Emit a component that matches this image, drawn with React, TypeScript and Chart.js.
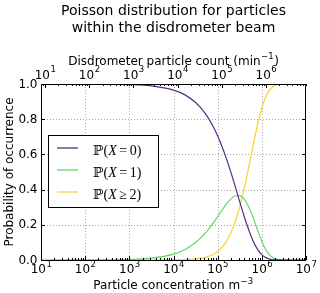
import React, { useEffect, useRef } from 'react';
import { Chart, registerables } from 'chart.js';

Chart.register(...registerables);

// Particle concentration (m^-3) sample points
const concentration = [
  10, 100, 1000, 3162, 10000, 17783, 31623, 39811, 50119, 63096, 79433,
  100000, 125893, 158489, 199526, 251189, 316228, 398107, 501187, 630957,
  794328, 1000000, 1258925, 1584893, 1995262, 2511886, 3162278, 10000000,
];
const pZero = [
  1.0, 0.9997, 0.9965, 0.989, 0.9656, 0.9397, 0.8952, 0.87, 0.8391, 0.8019, 0.7573,
  0.7048, 0.6437, 0.5743, 0.4975, 0.4152, 0.3307, 0.2483, 0.1731, 0.1099,
  0.062, 0.0302, 0.0122, 0.0039, 0.0009, 0.0002, 0.0, 0.0,
];
const pOne = [
  0.0, 0.0003, 0.0035, 0.011, 0.0338, 0.0584, 0.0991, 0.1212, 0.1472, 0.1771, 0.2105,
  0.2466, 0.2836, 0.3185, 0.3474, 0.365, 0.366, 0.3459, 0.3036, 0.2427,
  0.1724, 0.1057, 0.0538, 0.0217, 0.0065, 0.0013, 0.0002, 0.0,
];
const pTwoPlus = [
  0.0, 0.0, 0.0, 0.0001, 0.0006, 0.0019, 0.0057, 0.0088, 0.0137, 0.021, 0.0322,
  0.0486, 0.0727, 0.1072, 0.1551, 0.2198, 0.3033, 0.4058, 0.5233, 0.6474,
  0.7656, 0.8641, 0.934, 0.9744, 0.9926, 0.9986, 0.9998, 1.0,
];

const seriesLabels = ['0', '1', '2'];
const seriesRelations = ['=', '=', '≥'];
const seriesColors = ['#5a2d80', '#66d46a', '#f9d230'];

const bottomTickExps = [1, 2, 3, 4, 5, 6, 7];
const topTickExps = [1, 2, 3, 4, 5, 6];
const yTicks = [0, 0.2, 0.4, 0.6, 0.8, 1.0];

const titleLines = ['Poisson distribution for particles', 'within the disdrometer beam'];
const topAxisTitle = 'Disdrometer particle count (min';
const topAxisSup = '−1';
const bottomAxisTitle = 'Particle concentration m';
const bottomAxisSup = '−3';
const yAxisTitle = 'Probability of occurrence';

const SANS = '"DejaVu Sans", sans-serif';
const SERIF = '"Liberation Serif", "DejaVu Serif", serif';

function drawPow(ctx: CanvasRenderingContext2D, x: number, y: number, exp: number) {
  ctx.font = `12px ${SANS}`;
  const w1 = ctx.measureText('10').width;
  ctx.font = `8.5px ${SANS}`;
  const e = String(exp);
  const w2 = ctx.measureText(e).width;
  const start = x - (w1 + w2) / 2;
  ctx.textAlign = 'left';
  ctx.textBaseline = 'alphabetic';
  ctx.font = `12px ${SANS}`;
  ctx.fillText('10', start, y);
  ctx.font = `8.5px ${SANS}`;
  ctx.fillText(e, start + w1 + 0.5, y - 6.5);
}

function drawWithSup(ctx: CanvasRenderingContext2D, cx: number, y: number, main: string, sup: string, tail: string) {
  ctx.font = `12px ${SANS}`;
  const w1 = ctx.measureText(main).width;
  const w3 = ctx.measureText(tail).width;
  ctx.font = `8.5px ${SANS}`;
  const w2 = ctx.measureText(sup).width;
  const start = cx - (w1 + w2 + w3 + 1) / 2;
  ctx.textAlign = 'left';
  ctx.textBaseline = 'alphabetic';
  ctx.font = `12px ${SANS}`;
  ctx.fillText(main, start, y);
  ctx.font = `8.5px ${SANS}`;
  ctx.fillText(sup, start + w1 + 0.5, y - 5.5);
  ctx.font = `12px ${SANS}`;
  ctx.fillText(tail, start + w1 + w2 + 1, y);
}

function drawMath(ctx: CanvasRenderingContext2D, x: number, y: number, rel: string, val: string) {
  ctx.textAlign = 'left';
  ctx.textBaseline = 'alphabetic';
  let cx = x;
  const seg = (t: string, italic: boolean, gap = 0) => {
    ctx.font = `${italic ? 'italic ' : ''}14px ${SERIF}`;
    ctx.fillText(t, cx, y);
    cx += ctx.measureText(t).width + gap;
  };
  seg('ℙ', false);
  seg('(', false);
  seg('X', true, 2.5);
  seg(rel, false, 2.5);
  seg(val, false);
  seg(')', false);
}

const decor = {
  id: 'decor',
  beforeDatasetsDraw(chart: any) {
    const { ctx, chartArea: a, scales } = chart;
    const x = scales.x;
    const y = scales.y;
    ctx.save();
    ctx.strokeStyle = '#a8a8a8';
    ctx.lineWidth = 1;
    ctx.setLineDash([1, 2]);
    for (const e of bottomTickExps) {
      const px = Math.round(x.getPixelForValue(Math.pow(10, e))) + 0.5;
      if (px <= a.left + 1 || px >= a.right - 1) continue;
      ctx.beginPath();
      ctx.moveTo(px, a.top);
      ctx.lineTo(px, a.bottom);
      ctx.stroke();
    }
    for (const v of yTicks) {
      const py = Math.round(y.getPixelForValue(v)) + 0.5;
      if (py <= a.top + 1 || py >= a.bottom - 1) continue;
      ctx.beginPath();
      ctx.moveTo(a.left, py);
      ctx.lineTo(a.right, py);
      ctx.stroke();
    }
    ctx.restore();
  },
  afterDatasetsDraw(chart: any) {
    const { ctx, chartArea: a, scales } = chart;
    const x = scales.x;
    const x2 = scales.x2;
    const y = scales.y;
    ctx.save();
    ctx.fillStyle = '#000';
    ctx.strokeStyle = '#000';
    ctx.lineWidth = 1;
    ctx.setLineDash([]);

    // ticks, inward
    const tick = (px: number, len: number, top: boolean) => {
      const xx = Math.round(px) + 0.5;
      ctx.beginPath();
      if (top) {
        ctx.moveTo(xx, a.top);
        ctx.lineTo(xx, a.top + len);
      } else {
        ctx.moveTo(xx, a.bottom);
        ctx.lineTo(xx, a.bottom - len);
      }
      ctx.stroke();
    };
    for (let e = 1; e <= 7; e++) {
      for (let m = 1; m <= 9; m++) {
        const v = m * Math.pow(10, e);
        if (v < x.min || v > x.max) continue;
        tick(x.getPixelForValue(v), m === 1 ? 4 : 2, false);
      }
    }
    for (let e = 0; e <= 7; e++) {
      for (let m = 1; m <= 9; m++) {
        const v = m * Math.pow(10, e);
        if (v < x2.min || v > x2.max) continue;
        tick(x2.getPixelForValue(v), m === 1 ? 4 : 2, true);
      }
    }
    for (const v of yTicks) {
      const py = Math.round(y.getPixelForValue(v)) + 0.5;
      ctx.beginPath();
      ctx.moveTo(a.left, py);
      ctx.lineTo(a.left + 4, py);
      ctx.moveTo(a.right, py);
      ctx.lineTo(a.right - 4, py);
      ctx.stroke();
    }

    // frame
    ctx.strokeRect(a.left + 0.5, a.top + 0.5, a.right - a.left - 1, a.bottom - a.top);

    // tick labels
    for (const e of bottomTickExps) drawPow(ctx, x.getPixelForValue(Math.pow(10, e)), a.bottom + 13, e);
    for (const e of topTickExps) drawPow(ctx, x2.getPixelForValue(Math.pow(10, e)), a.top - 5.5, e);
    ctx.font = `12px ${SANS}`;
    ctx.textAlign = 'right';
    ctx.textBaseline = 'middle';
    for (const v of yTicks) ctx.fillText(v.toFixed(1), a.left - 3.5, y.getPixelForValue(v) + 0.5);

    // axis titles
    const cx = (a.left + a.right) / 2;
    drawWithSup(ctx, cx, a.top - 19.5, topAxisTitle, topAxisSup, ')');
    drawWithSup(ctx, cx, a.bottom + 29, bottomAxisTitle, bottomAxisSup, '');
    ctx.save();
    ctx.translate(12.5, (a.top + a.bottom) / 2);
    ctx.rotate(-Math.PI / 2);
    ctx.font = `12px ${SANS}`;
    ctx.textAlign = 'center';
    ctx.textBaseline = 'alphabetic';
    ctx.fillText(yAxisTitle, 0, 0);
    ctx.restore();

    // title
    ctx.font = `14px ${SANS}`;
    ctx.textAlign = 'center';
    ctx.textBaseline = 'alphabetic';
    ctx.fillText(titleLines[0], cx, 15);
    ctx.fillText(titleLines[1], cx, 31.5);

    // legend
    ctx.fillStyle = '#fff';
    ctx.fillRect(48.5, 135.5, 110, 72);
    ctx.strokeStyle = '#000';
    ctx.strokeRect(48.5, 135.5, 110, 72);
    for (let i = 0; i < seriesLabels.length; i++) {
      const ly = 148 + i * 22;
      ctx.strokeStyle = seriesColors[i];
      ctx.lineWidth = 1.3;
      ctx.beginPath();
      ctx.moveTo(57, ly);
      ctx.lineTo(78, ly);
      ctx.stroke();
      ctx.fillStyle = '#000';
      drawMath(ctx, 93, ly + 6.5, seriesRelations[i], seriesLabels[i]);
    }
    ctx.restore();
  },
};

export default function App() {
  const ref = useRef<HTMLCanvasElement>(null);
  useEffect(() => {
    if (!ref.current) return;
    const mk = (vals: number[]) => concentration.map((c, i) => ({ x: c, y: vals[i] }));
    const all = [pZero, pOne, pTwoPlus];
    const chart = new Chart(ref.current, {
      type: 'line',
      data: {
        datasets: all.map((vals, i) => ({
          label: `P(X${seriesRelations[i]}${seriesLabels[i]})`,
          data: mk(vals),
          borderColor: seriesColors[i],
          borderWidth: 1.2,
          pointRadius: 0,
          fill: false,
          cubicInterpolationMode: 'monotone' as const,
          xAxisID: 'x',
          yAxisID: 'y',
        })),
      },
      options: {
        responsive: false,
        animation: false,
        devicePixelRatio: 1,
        layout: { padding: { left: 41, right: 14, top: 84, bottom: 33 } },
        plugins: { legend: { display: false }, tooltip: { enabled: false }, title: { display: false } },
        scales: {
          x: { type: 'logarithmic', min: 10, max: 1e7, display: false },
          x2: { type: 'logarithmic', min: 8.1, max: 8.1e6, display: false, position: 'top' },
          y: { type: 'linear', min: 0, max: 1, display: false },
        },
      },
      plugins: [decor],
    });
    return () => chart.destroy();
  }, []);
  return (
    <div style={{ position: 'fixed', left: 0, top: 0, width: 320, height: 293, background: '#fff' }}>
      <canvas ref={ref} width={320} height={293} style={{ display: 'block', width: 320, height: 293 }} />
    </div>
  );
}
